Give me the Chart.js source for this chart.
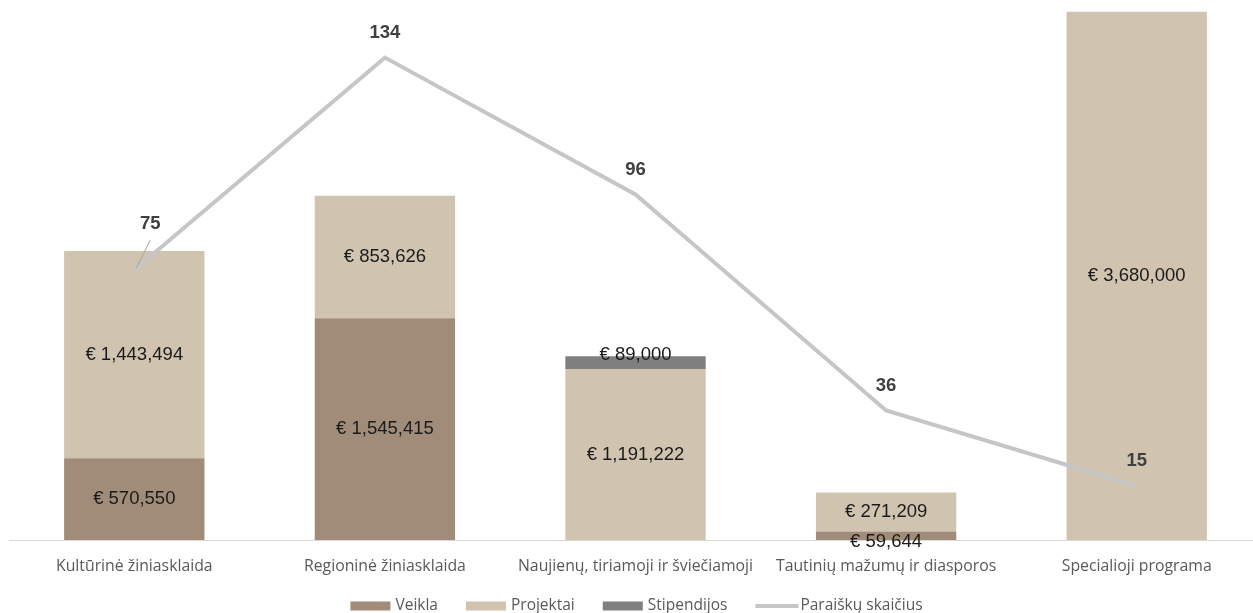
<!DOCTYPE html>
<html lang="lt">
<head>
  <meta charset="UTF-8">
  <title>Finansavimas pagal programas</title>
  <script src="https://cdn.jsdelivr.net/npm/chart.js"></script>
  <style>
    html, body { margin: 0; padding: 0; background: #fff; overflow: hidden; }
    #wrap { width: 1262px; height: 613px; }
  </style>
</head>
<body>
  <div id="wrap"><canvas id="fundsChart"></canvas></div>
  <script>
    // Chart data
    const categories = ['Kultūrinė žiniasklaida', 'Regioninė žiniasklaida', 'Naujienų, tiriamoji ir šviečiamoji', 'Tautinių mažumų ir diasporos', 'Specialioji programa'];
    const veikla = [570550, 1545415, null, 59644, null];
    const projektai = [1443494, 853626, 1191222, 271209, 3680000];
    const stipendijos = [null, null, 89000, null, null];
    const paraiskos = [75, 134, 96, 36, 15];

    const fmtEur = v => '€ ' + v.toLocaleString('en-US');

    // draws the value labels (no datalabels plugin available)
    const valueLabels = {
      id: 'valueLabels',
      afterDatasetsDraw(chart) {
        const ctx = chart.ctx;
        ctx.save();
        ctx.textAlign = 'center';
        ctx.textBaseline = 'middle';
        chart.data.datasets.forEach((ds, di) => {
          const meta = chart.getDatasetMeta(di);
          meta.data.forEach((el, i) => {
            const v = ds.data[i];
            if (v == null) return;
            if (ds.type === 'line') {
              ctx.font = 'bold 18.5px "Liberation Sans", Arial';
              ctx.fillStyle = '#404040';
              if (i === 0) {
                // label moved up with leader line
                ctx.strokeStyle = '#a6a6a6';
                ctx.lineWidth = 1;
                ctx.beginPath();
                ctx.moveTo(el.x + 16, el.y - 30);
                ctx.lineTo(el.x + 2, el.y - 2);
                ctx.stroke();
                ctx.fillText(v, el.x + 16, el.y - 46);
              } else {
                ctx.fillText(v, el.x, el.y - 25);
              }
            } else {
              ctx.font = '18.5px "Liberation Sans", Arial';
              ctx.fillStyle = '#1a1a1a';
              const cy = (el.y + el.base) / 2;
              let y = cy;
              if (ds.label === 'Stipendijos') y = cy - 8;
              if (ds.label === 'Veikla' && el.base - el.y < 15) y = cy + 6;
              ctx.fillText(fmtEur(v), el.x, y);
            }
          });
        });
        ctx.restore();
      }
    };

    // legend drawn by hand so the spacing can follow the original
    const bottomLegend = {
      id: 'bottomLegend',
      afterDraw(chart) {
        const ctx = chart.ctx;
        ctx.save();
        ctx.font = '15.5px "Open Sans"';
        ctx.textBaseline = 'middle';
        const items = chart.data.datasets.map(ds => ({
          text: ds.label,
          line: ds.type === 'line',
          color: ds.type === 'line' ? ds.borderColor : ds.backgroundColor
        }));
        const gap = 28;
        const widths = items.map(it => 45 + ctx.measureText(it.text).width);
        const total = widths.reduce((a, b) => a + b, 0) + gap * (items.length - 1);
        let x = (chart.chartArea.left + chart.chartArea.right) / 2 + 1 - total / 2;
        const y = 606;
        items.forEach((it, k) => {
          ctx.fillStyle = it.color;
          if (it.line) {
            ctx.fillRect(x, y - 2, 43, 4);
          } else {
            ctx.fillRect(x, y - 4.5, 40, 9);
          }
          ctx.fillStyle = '#595959';
          ctx.fillText(it.text, x + 45, y);
          x += widths[k] + gap;
        });
        ctx.restore();
      }
    };

    new Chart(document.getElementById('fundsChart'), {
      type: 'bar',
      data: {
        labels: categories,
        datasets: [
          { label: 'Veikla', data: veikla, backgroundColor: '#a08c78', stack: 's', order: 1, yAxisID: 'y' },
          { label: 'Projektai', data: projektai, backgroundColor: '#d0c4b0', stack: 's', order: 1, yAxisID: 'y' },
          { label: 'Stipendijos', data: stipendijos, backgroundColor: '#7f7f7f', stack: 's', order: 1, yAxisID: 'y' },
          { type: 'line', label: 'Paraiškų skaičius', data: paraiskos, borderColor: '#c6c6c6', backgroundColor: '#c6c6c6',
            borderWidth: 4, pointRadius: 0, tension: 0, order: 0, yAxisID: 'y1' }
        ]
      },
      options: {
        responsive: true,
        maintainAspectRatio: false,
        animation: false,
        layout: { padding: { top: 9, left: 9, right: 0, bottom: 20 } },
        datasets: { bar: { barPercentage: 0.56, categoryPercentage: 1 } },
        scales: {
          x: {
            stacked: true,
            grid: { display: false, drawTicks: false },
            border: { color: '#d9d9d9', width: 1 },
            ticks: { color: '#595959', font: { family: 'Open Sans', size: 15.8 }, padding: 17, maxRotation: 0, autoSkip: false }
          },
          y: { stacked: true, display: false, min: 0, max: 3700000 },
          y1: { display: false, min: 0, max: 147.5 }
        },
        plugins: {
          legend: { display: false },
          tooltip: { enabled: false }
        }
      },
      plugins: [valueLabels, bottomLegend]
    });
  </script>
</body>
</html>
